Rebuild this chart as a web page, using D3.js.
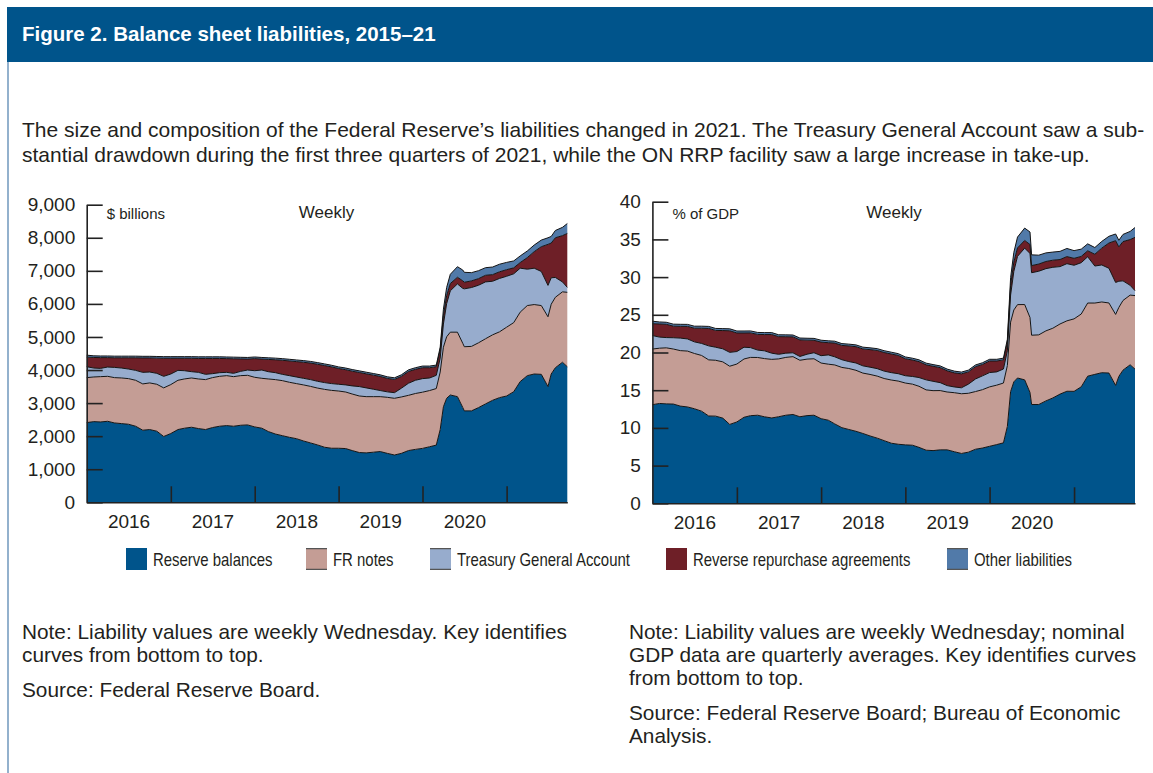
<!DOCTYPE html>
<html>
<head>
<meta charset="utf-8">
<script src="https://cdn.jsdelivr.net/npm/d3@7"></script>
<style>
body { margin: 0; background: #fff; }
</style>
</head>
<body>
<div id="vis"></div>
<script>
// weekly Wednesday values at roughly monthly steps
const dates = [
  "2016-01-01","2016-02-01","2016-03-01","2016-04-01","2016-05-01","2016-06-01","2016-07-01","2016-08-01","2016-09-01","2016-10-01","2016-11-01","2016-12-01",
  "2017-01-01","2017-02-01","2017-03-01","2017-04-01","2017-05-01","2017-06-01","2017-07-01","2017-08-01","2017-09-01","2017-10-01","2017-11-01","2017-12-01",
  "2018-01-01","2018-02-01","2018-03-01","2018-04-01","2018-05-01","2018-06-01","2018-07-01","2018-08-01","2018-09-01","2018-10-01","2018-11-01","2018-12-01",
  "2019-01-01","2019-02-01","2019-03-01","2019-04-01","2019-05-01","2019-06-01","2019-07-01","2019-08-01","2019-09-01","2019-10-01","2019-11-01","2019-12-01",
  "2020-01-01","2020-02-01","2020-03-01","2020-03-18","2020-04-01","2020-04-15","2020-05-01","2020-06-01","2020-06-24","2020-07-01","2020-08-01","2020-09-01",
  "2020-10-01","2020-11-01","2020-12-01","2021-01-01","2021-02-01","2021-03-01","2021-04-01","2021-05-01","2021-06-01","2021-06-30","2021-07-14","2021-08-01",
  "2021-09-01","2021-09-22"
]

var keys = ["reserves","frNotes","tga","rrp","other"]
var labels = ["Reserve balances","FR notes","Treasury General Account","Reverse repurchase agreements","Other liabilities"]
var colors = ["#00548b","#c49d95","#97accd","#6e1f27","#517aa9"]

// $ billions
const resBn = [2410,2440,2430,2450,2400,2380,2360,2300,2180,2200,2150,1990,2080,2200,2240,2270,2230,2200,2260,2300,2320,2300,2330,2340,
  2280,2240,2140,2065,2015,1965,1925,1855,1795,1735,1665,1635,1635,1625,1565,1505,1495,1515,1535,1480,1430,1480,1565,
  1600,1630,1680,1730,
  2200,2890,3145,3245,3195,2870,2765,2765,2865,2975,3085,3165,3215,3345,3650,3830,3880,3870,3500,3880,4070,4235,4100]
const frBn = [1360,1350,1370,1360,1370,1380,1380,1390,1400,1410,1420,1470,1480,1490,1490,1490,1500,1510,1510,1510,1510,1500,1500,1500,
  1500,1510,1590,1645,1665,1665,1665,1695,1710,1720,1750,1750,1730,1710,1710,1710,1700,1680,1660,1695,1715,1705,1670,
  1690,1700,1700,1710,
  1740,1800,1860,1900,1950,1940,1940,1950,1960,1970,1980,1990,2080,2090,2100,2120,2100,2080,2110,2110,2130,2130,2250]
const tgaBn = [330,270,250,280,310,300,290,300,350,330,330,350,320,300,250,190,200,160,120,110,100,100,130,160,
  200,250,220,210,190,200,200,200,205,205,205,205,205,215,245,285,265,225,185,165,170,265,365,
  400,410,380,400,
  420,700,1000,1250,1460,1660,1750,1780,1740,1720,1620,1615,1540,1475,1330,1100,1100,1030,950,800,600,300,150]
const rrpBn = [290,320,325,285,290,310,340,380,435,425,460,545,475,365,375,405,420,480,460,430,415,440,375,330,
  365,330,370,390,425,445,465,485,500,515,515,505,475,460,445,425,425,425,425,405,400,355,355,
  330,330,310,260,
  250,250,240,220,200,230,200,200,200,200,200,200,200,180,170,350,500,750,1240,1050,1200,1400,1630]
const othBn = [60,50,50,50,50,50,50,50,50,50,50,50,50,50,50,50,50,50,50,50,50,50,50,50,
  50,50,50,50,50,50,50,50,50,50,50,50,50,50,50,50,50,50,50,50,50,50,50,
  50,50,50,50,
  80,200,250,280,320,325,300,250,240,230,230,230,220,210,200,200,200,200,200,200,220,250,300]

// % of GDP
const resPct = [13.08,13.24,13.19,13.16,12.89,12.78,12.54,12.22,11.58,11.56,11.30,10.46,10.79,11.41,11.62,11.68,11.47,11.32,11.48,11.68,11.78,11.48,11.63,11.68,
  11.22,11.02,10.53,10.03,9.79,9.55,9.26,8.93,8.64,8.31,7.97,7.83,7.75,7.70,7.42,7.04,6.99,7.09,7.09,6.84,6.61,6.78,7.17,
  7.33,7.56,7.79,8.02,
  10.20,14.81,16.11,16.62,16.37,14.70,13.10,13.10,13.58,13.97,14.48,14.86,14.85,15.45,16.86,17.10,17.32,17.28,15.63,16.83,17.66,18.37,17.79]
const frPct = [7.38,7.33,7.43,7.30,7.36,7.41,7.33,7.39,7.44,7.41,7.46,7.72,7.68,7.73,7.73,7.66,7.72,7.77,7.67,7.67,7.67,7.49,7.49,7.49,
  7.38,7.43,7.82,7.99,8.09,8.09,8.01,8.16,8.23,8.24,8.38,8.38,8.20,8.10,8.10,8.00,7.95,7.86,7.67,7.83,7.92,7.81,7.65,
  7.74,7.88,7.88,7.93,
  8.07,9.22,9.53,9.73,9.99,9.94,9.19,9.24,9.29,9.25,9.30,9.34,9.61,9.65,9.70,9.46,9.38,9.29,9.42,9.15,9.24,9.24,9.76]
const tgaPct = [1.79,1.47,1.36,1.50,1.66,1.61,1.54,1.59,1.86,1.73,1.73,1.84,1.66,1.56,1.30,0.98,1.03,0.82,0.61,0.56,0.51,0.50,0.65,0.80,
  0.98,1.23,1.08,1.02,0.92,0.97,0.96,0.96,0.99,0.98,0.98,0.98,0.97,1.02,1.16,1.33,1.24,1.05,0.85,0.76,0.79,1.21,1.67,
  1.83,1.90,1.76,1.86,
  1.95,3.59,5.12,6.40,7.48,8.50,8.29,8.44,8.25,8.08,7.61,7.58,7.11,6.81,6.14,4.91,4.91,4.60,4.24,3.47,2.60,1.30,0.65]
const rrpPct = [1.57,1.74,1.76,1.53,1.56,1.66,1.81,2.02,2.31,2.23,2.42,2.86,2.46,1.89,1.95,2.08,2.16,2.47,2.34,2.18,2.11,2.20,1.87,1.65,
  1.80,1.62,1.82,1.90,2.07,2.16,2.24,2.33,2.41,2.47,2.47,2.42,2.25,2.18,2.11,1.99,1.99,1.99,1.96,1.87,1.85,1.63,1.63,
  1.51,1.53,1.44,1.21,
  1.16,1.28,1.23,1.13,1.02,1.18,0.95,0.95,0.95,0.94,0.94,0.94,0.92,0.83,0.79,1.56,2.23,3.35,5.54,4.56,5.21,6.07,7.07]
const othPct = [0.33,0.27,0.27,0.27,0.27,0.27,0.27,0.27,0.27,0.26,0.26,0.26,0.26,0.26,0.26,0.26,0.26,0.26,0.25,0.25,0.25,0.25,0.25,0.25,
  0.25,0.25,0.25,0.24,0.24,0.24,0.24,0.24,0.24,0.24,0.24,0.24,0.24,0.24,0.24,0.23,0.23,0.23,0.23,0.23,0.23,0.23,0.23,
  0.23,0.23,0.23,0.23,
  0.37,1.02,1.28,1.43,1.64,1.66,1.42,1.18,1.14,1.08,1.08,1.08,1.02,0.97,0.92,0.89,0.89,0.89,0.89,0.87,0.95,1.08,1.30]

const ticksBn = [0,1000,2000,3000,4000,5000,6000,7000,8000,9000]
const ticksPct = [0,5,10,15,20,25,30,35,40]
const yearLabels = [2016,2017,2018,2019,2020]
const yearTicks = [2017,2018,2019,2020,2021]

var parse = d3.timeParse("%Y-%m-%d")
var width = 1153, height = 773
var txt = "#231f20"

var svg = d3.select("#vis").append("svg")
  .attr("width", width)
  .attr("height", height)
  .style("font-family", "'Liberation Sans', Arial, sans-serif")

// header bar + frame line
svg.append("rect")
  .attr("x", 7).attr("y", 7)
  .attr("width", width - 7).attr("height", 55)
  .attr("fill", "#00548b")
svg.append("text")
  .attr("x", 22).attr("y", 41)
  .attr("fill", "#fff")
  .style("font-weight", "bold")
  .style("font-size", "20.5px")
  .text("Figure 2. Balance sheet liabilities, 2015–21")
svg.append("line")
  .attr("x1", 8).attr("x2", 8).attr("y1", 62).attr("y2", height)
  .attr("stroke", "#6f97bd").attr("stroke-width", 1.5)

var intro = [
  "The size and composition of the Federal Reserve’s liabilities changed in 2021. The Treasury General Account saw a sub-",
  "stantial drawdown during the first three quarters of 2021, while the ON RRP facility saw a large increase in take-up."
]
svg.selectAll("text.intro").data(intro).enter().append("text")
  .attr("class", "intro")
  .attr("x", 22).attr("y", (d, i) => 137 + i * 24.5)
  .attr("fill", txt)
  .style("font-size", "21px")
  .text(d => d)

function panel(opt) {
  var rows = dates.map((d, i) => {
    var r = { date: parse(d) }
    keys.forEach((k, j) => r[k] = opt.series[j][i])
    return r
  })
  var stacked = d3.stack().keys(keys)(rows)

  var x = d3.scaleTime()
    .domain([parse("2016-01-01"), parse("2021-09-22")])
    .range([opt.x0, opt.x1])
  var y = d3.scaleLinear()
    .domain([0, opt.max])
    .range([opt.y0, opt.yTop])

  var area = d3.area()
    .x(d => x(d.data.date))
    .y0(d => y(d[0]))
    .y1(d => y(d[1]))
  var edge = d3.line()
    .x(d => x(d.data.date))
    .y(d => y(d[1]))

  var g = svg.append("g")
  g.selectAll("path.layer").data(stacked).enter().append("path")
    .attr("class", "layer")
    .attr("fill", (d, i) => colors[i])
    .attr("d", area)
  g.selectAll("path.edge").data(stacked).enter().append("path")
    .attr("class", "edge")
    .attr("fill", "none")
    .attr("stroke", "#141414")
    .attr("stroke-width", 1)
    .attr("d", edge)

  // x axis: ticks at year starts, labels mid year
  var xa = g.append("g")
    .attr("transform", `translate(0,${opt.y0})`)
    .call(d3.axisBottom(x)
      .tickValues(yearTicks.map(v => new Date(v, 0, 1)))
      .tickSize(-16).tickSizeOuter(0).tickFormat(""))
  var xl = g.append("g")
    .attr("transform", `translate(0,${opt.y0})`)
    .call(d3.axisBottom(x)
      .tickValues(yearLabels.map(v => new Date(v, 6, 1)))
      .tickSize(0).tickPadding(12.5).tickFormat(d3.timeFormat("%Y")))
  xl.select(".domain").remove()

  var ya = g.append("g")
    .attr("transform", `translate(${opt.x0},0)`)
    .call(d3.axisLeft(y)
      .tickValues(opt.ticks)
      .tickSize(-16).tickSizeOuter(0).tickPadding(11.5)
      .tickFormat(opt.fmt))

  ;[xa, xl, ya].forEach(a => {
    a.selectAll(".domain, .tick line").attr("stroke", "#222").attr("stroke-width", 1.6)
    a.selectAll("text")
      .attr("fill", txt)
      .style("font-size", "19px")
      .style("font-family", "'Liberation Sans', Arial, sans-serif")
  })

  g.append("text")
    .attr("x", opt.x0 + 20).attr("y", 219)
    .attr("fill", txt).style("font-size", "15px")
    .text(opt.unit)
  g.append("text")
    .attr("x", opt.weeklyX).attr("y", 217.5)
    .attr("text-anchor", "middle")
    .attr("fill", txt).style("font-size", "17px")
    .text("Weekly")
}

panel({
  series: [resBn, frBn, tgaBn, rrpBn, othBn],
  x0: 86.7, x1: 567.3, y0: 502.3, yTop: 204.7, max: 9000,
  ticks: ticksBn, fmt: d3.format(","), unit: "$ billions", weeklyX: 326.5
})
panel({
  series: [resPct, frPct, tgaPct, rrpPct, othPct],
  x0: 652.4, x1: 1135, y0: 503.3, yTop: 201.7, max: 40,
  ticks: ticksPct, fmt: d3.format("d"), unit: "% of GDP", weeklyX: 894
})

// legend (condensed look: Liberation Sans squeezed horizontally)
var legX = [126, 306, 430, 666, 947]
var leg = svg.selectAll("g.leg").data(labels).enter().append("g")
  .attr("class", "leg")
  .attr("transform", (d, i) => `translate(${legX[i]},548)`)
leg.append("rect")
  .attr("width", 21).attr("height", 22)
  .attr("fill", (d, i) => colors[i])
leg.filter((d, i) => i > 0 && i != 3).append("path")
  .attr("d", "M0,0.6H21M0,21.4H21")
  .attr("stroke", "#555").attr("stroke-width", 1.2)
leg.append("text")
  .attr("transform", "translate(27,17.5) scale(0.83,1)")
  .attr("fill", txt)
  .style("font-size", "18px")
  .text(d => d)

// notes
var noteL = [
  ["Note: Liability values are weekly Wednesday. Key identifies", 639],
  ["curves from bottom to top.", 662],
  ["Source: Federal Reserve Board.", 697]
]
var noteR = [
  ["Note: Liability values are weekly Wednesday; nominal", 639],
  ["GDP data are quarterly averages. Key identifies curves", 662],
  ["from bottom to top.", 685],
  ["Source: Federal Reserve Board; Bureau of Economic", 720],
  ["Analysis.", 743]
]
svg.selectAll("text.noteL").data(noteL).enter().append("text")
  .attr("x", 22).attr("y", d => d[1])
  .attr("fill", txt).style("font-size", "20.8px")
  .text(d => d[0])
svg.selectAll("text.noteR").data(noteR).enter().append("text")
  .attr("x", 629).attr("y", d => d[1])
  .attr("fill", txt).style("font-size", "20.8px")
  .text(d => d[0])
</script>
</body>
</html>
